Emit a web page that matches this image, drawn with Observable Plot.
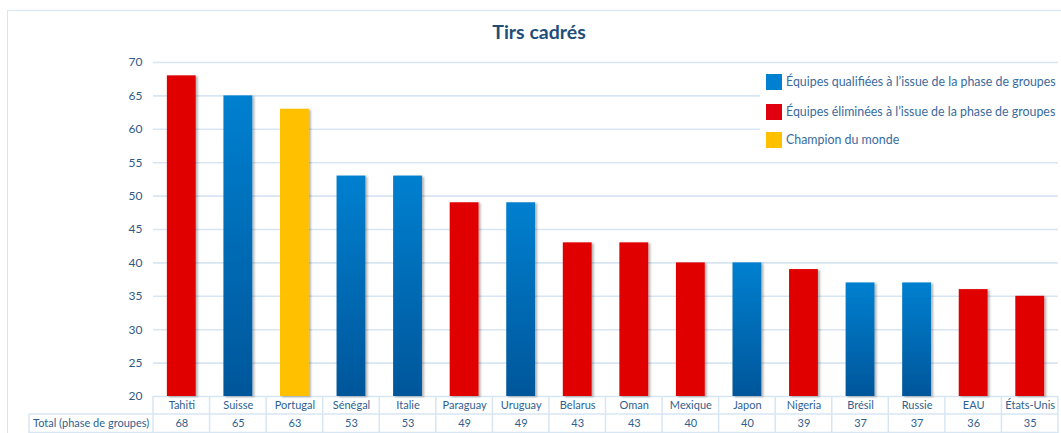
<!DOCTYPE html>
<html>
<head>
<meta charset="utf-8">
<script src="https://cdn.jsdelivr.net/npm/d3@7"></script>
<script src="https://cdn.jsdelivr.net/npm/@observablehq/plot@0.6"></script>
<style>
  html, body { margin: 0; padding: 0; background: #fff; }
  #wrap { position: relative; width: 1061px; height: 433px; overflow: hidden; font-family: Lato, "Open Sans", sans-serif; }
  #frame { position: absolute; left: 7px; top: 10px; width: 1100px; height: 500px; border-left: 1.5px solid #d6e6f5; border-top: 1.5px solid #d6e6f5; pointer-events: none; }
  #title { position: absolute; left: 0; width: 1078px; top: 20px; text-align: center; font-weight: bold; font-size: 19.5px; color: #1f4e79; }
  #legend { position: absolute; left: 760px; top: 64px; width: 301px; height: 96px; background: #fff; }
  .item { position: absolute; left: 6px; height: 17px; display: flex; align-items: center; font-size: 12.4px; color: #3a6b9c; white-space: nowrap; }
  .sw { width: 16px; height: 16px; margin-right: 4px; flex: none; }
  svg { position: absolute; left: 0; top: 0; }
</style>
</head>
<body>
<div id="wrap">
  <div id="chart"></div>
  <div id="frame"></div>
  <div id="title">Tirs cadrés</div>
  <div id="legend"></div>
</div>
<script>
const categories = ["Tahiti","Suisse","Portugal","Sénégal","Italie","Paraguay","Uruguay","Belarus","Oman","Mexique","Japon","Nigeria","Brésil","Russie","EAU","États-Unis"];
const values = [68,65,63,53,53,49,49,43,43,40,40,39,37,37,36,35];
const groups = ["elim","qual","champ","qual","qual","elim","qual","elim","elim","elim","qual","elim","qual","qual","elim","elim"];
const groupKeys = ["qual","elim","champ"];
const groupLabels = ["Équipes qualifiées à l’issue de la phase de groupes","Équipes éliminées à l’issue de la phase de groupes","Champion du monde"];
const groupColors = ["url(#blueGrad)","#e00000","#ffc000"];
const legendColors = ["#0080d0","#e00010","#ffc000"];
const yTicks = [20,25,30,35,40,45,50,55,60,65,70];
const rowLabel = "Total (phase de groupes)";

const data = categories.map((c, i) => ({cat: c, value: values[i], group: groups[i]}));

const textColor = "#2f5f8f";
const gridColor = "#d8e6f3";

const defs = () => {
  const d = d3.create("svg:defs");
  const g = d.append("linearGradient").attr("id", "blueGrad").attr("x1", 0).attr("y1", 0).attr("x2", 0).attr("y2", 1);
  g.append("stop").attr("offset", "0%").attr("stop-color", "#0080d0");
  g.append("stop").attr("offset", "100%").attr("stop-color", "#00569a");
  const f = d.append("filter").attr("id", "shadow").attr("x", "-20%").attr("y", "-5%").attr("width", "150%").attr("height", "115%");
  f.append("feDropShadow").attr("dx", 2).attr("dy", 1).attr("stdDeviation", 1.3).attr("flood-color", "#000").attr("flood-opacity", 0.3);
  return d.node();
};

const plot = Plot.plot({
  width: 1061,
  height: 433,
  marginLeft: 153,
  marginRight: 3,
  marginTop: 62,
  marginBottom: 37,
  style: {fontFamily: "Lato, 'Open Sans', sans-serif", background: "transparent", overflow: "visible"},
  x: {domain: categories, paddingInner: 0.49, paddingOuter: 0.245, round: false, axis: null},
  y: {domain: [20, 70], axis: null},
  color: {domain: groupKeys, range: groupColors},
  marks: [
    defs,
    Plot.ruleY(yTicks, {stroke: gridColor, strokeWidth: 1.6}),
    Plot.barY(data, {x: "cat", y1: 20, y2: "value", fill: "group"}),
    Plot.axisY({ticks: yTicks, tickSize: 0, tickPadding: 11, fontSize: 12, color: "#2f5a85", label: null, tickFormat: d => d}),
    Plot.text(data, {x: "cat", text: "cat", frameAnchor: "bottom", dy: 9, lineAnchor: "middle", fontSize: 11, fill: textColor}),
    Plot.text(data, {x: "cat", text: d => String(d.value), frameAnchor: "bottom", dy: 27, lineAnchor: "middle", fontSize: 11, fill: textColor})
  ]
});

document.getElementById("chart").appendChild(plot);

// shadow on bars
const svgSel = d3.select(plot);
svgSel.selectAll('g[aria-label="bar"]').attr("filter", "url(#shadow)");

// table grid lines using the plot's scales
const xs = plot.scale("x");
const ys = plot.scale("y");
const step = xs.step, bw = xs.bandwidth;
const y20 = ys.apply(20);
const row1 = y20 + 18, row2 = 432.5;
const bounds = categories.map(c => xs.apply(c) - (step - bw) / 2);
const right = bounds[bounds.length - 1] + step;
bounds.push(right);
const tg = svgSel.append("g").attr("stroke", gridColor).attr("stroke-width", 1.5).attr("fill", "none");
bounds.forEach(b => tg.append("line").attr("x1", b).attr("x2", b).attr("y1", y20).attr("y2", 433));
tg.append("line").attr("x1", 29).attr("x2", right).attr("y1", row1).attr("y2", row1);
tg.append("line").attr("x1", 29).attr("x2", right).attr("y1", row2).attr("y2", row2);
tg.append("line").attr("x1", 29).attr("x2", 29).attr("y1", row1).attr("y2", 433);
svgSel.append("text").attr("x", 33).attr("y", y20 + 27).attr("dy", "0.35em")
  .attr("text-anchor", "start")
  .attr("font-size", 11).attr("fill", textColor).attr("font-family", "Lato, 'Open Sans', sans-serif").text(rowLabel);

// legend
const lg = document.getElementById("legend");
const tops = [9, 39, 67];
groupLabels.forEach((l, i) => {
  const it = document.createElement("div");
  it.className = "item";
  it.style.top = tops[i] + "px";
  it.innerHTML = `<span class="sw" style="background:${legendColors[i]}"></span><span>${l}</span>`;
  lg.appendChild(it);
});
</script>
</body>
</html>
